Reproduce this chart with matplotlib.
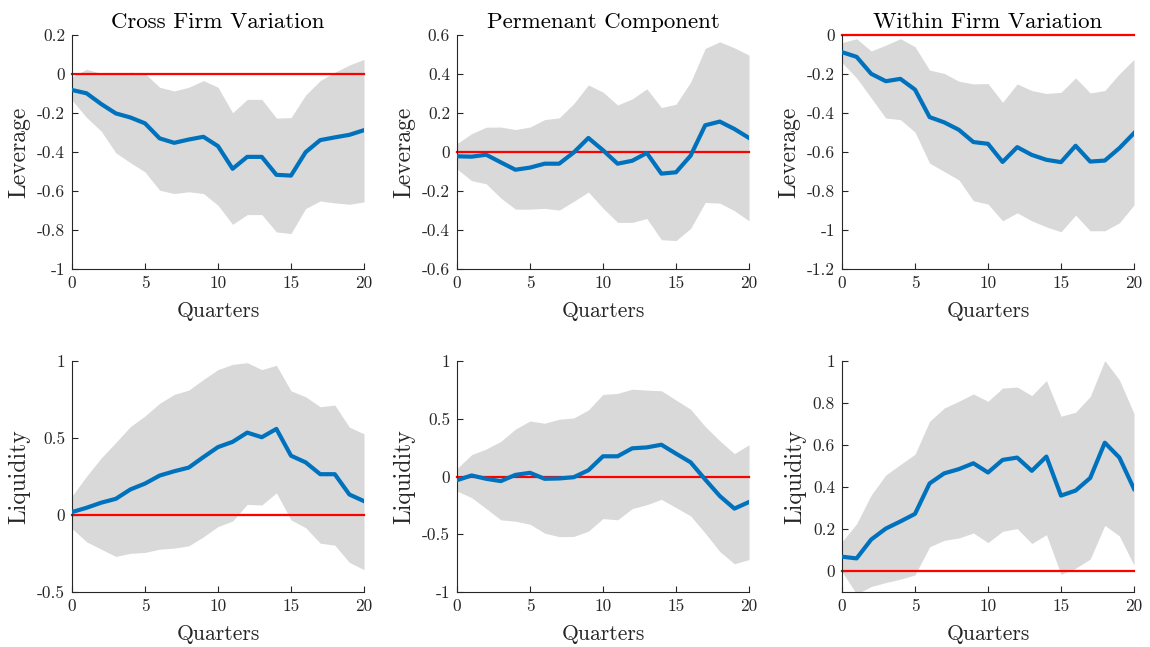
import numpy as np
import matplotlib
matplotlib.use("Agg")
import matplotlib.pyplot as plt
from matplotlib.ticker import FixedLocator, FuncFormatter

plt.rcParams['font.family'] = 'serif'
plt.rcParams['font.serif'] = ['cmr10', 'DejaVu Serif']
plt.rcParams['mathtext.fontset'] = 'cm'
plt.rcParams['axes.unicode_minus'] = False
plt.rcParams['axes.formatter.use_mathtext'] = True

quarters = list(range(21))

titles = ["Cross Firm Variation", "Permenant Component", "Within Firm Variation"]
row_labels = ["Leverage", "Liquidity"]

# Top row: Leverage
lev_cross_mean = [-0.082, -0.099, -0.154, -0.202, -0.223, -0.253, -0.330, -0.353, -0.336, -0.322, -0.370,
                  -0.486, -0.425, -0.425, -0.517, -0.521, -0.401, -0.339, -0.325, -0.312, -0.288]
lev_cross_upper = [-0.014, 0.024, 0.003, 0.000, 0.009, 0.003, -0.068, -0.087, -0.068, -0.034, -0.068,
                   -0.199, -0.130, -0.130, -0.226, -0.224, -0.108, -0.034, 0.009, 0.046, 0.075]
lev_cross_lower = [-0.134, -0.223, -0.293, -0.404, -0.455, -0.502, -0.596, -0.613, -0.604, -0.613, -0.673,
                   -0.771, -0.721, -0.721, -0.810, -0.818, -0.690, -0.651, -0.661, -0.668, -0.656]

lev_perm_mean = [-0.022, -0.024, -0.014, -0.053, -0.091, -0.080, -0.060, -0.060, -0.002, 0.072, 0.009,
                 -0.060, -0.045, -0.005, -0.111, -0.104, -0.019, 0.137, 0.156, 0.118, 0.072]
lev_perm_upper = [0.043, 0.094, 0.127, 0.128, 0.115, 0.128, 0.166, 0.175, 0.248, 0.344, 0.307,
                  0.241, 0.272, 0.324, 0.228, 0.245, 0.358, 0.531, 0.565, 0.534, 0.497]
lev_perm_lower = [-0.087, -0.147, -0.163, -0.236, -0.293, -0.293, -0.289, -0.298, -0.253, -0.205, -0.288,
                  -0.361, -0.361, -0.341, -0.450, -0.454, -0.392, -0.259, -0.262, -0.301, -0.353]

lev_within_mean = [-0.088, -0.112, -0.199, -0.237, -0.225, -0.280, -0.421, -0.448, -0.486, -0.549, -0.558,
                   -0.651, -0.575, -0.615, -0.640, -0.652, -0.568, -0.649, -0.644, -0.580, -0.503]
lev_within_upper = [-0.039, -0.019, -0.082, -0.052, -0.019, -0.060, -0.180, -0.197, -0.237, -0.251, -0.249,
                    -0.345, -0.251, -0.285, -0.300, -0.294, -0.220, -0.297, -0.285, -0.199, -0.125]
lev_within_lower = [-0.142, -0.220, -0.323, -0.426, -0.434, -0.498, -0.657, -0.700, -0.743, -0.850, -0.867,
                    -0.953, -0.912, -0.953, -0.984, -1.009, -0.924, -1.004, -1.004, -0.963, -0.872]

# Bottom row: Liquidity
liq_cross_mean = [0.019, 0.047, 0.080, 0.105, 0.166, 0.204, 0.256, 0.284, 0.308, 0.376, 0.441,
                  0.475, 0.535, 0.505, 0.559, 0.385, 0.342, 0.265, 0.265, 0.133, 0.090]
liq_cross_upper = [0.123, 0.252, 0.370, 0.471, 0.574, 0.643, 0.725, 0.783, 0.811, 0.880, 0.944,
                   0.978, 0.989, 0.944, 0.972, 0.806, 0.768, 0.703, 0.714, 0.570, 0.527]
liq_cross_lower = [-0.088, -0.174, -0.222, -0.269, -0.249, -0.243, -0.222, -0.215, -0.200, -0.142, -0.075,
                   -0.039, 0.069, 0.065, 0.144, -0.032, -0.082, -0.183, -0.196, -0.308, -0.355]

liq_perm_mean = [-0.032, 0.009, -0.020, -0.040, 0.014, 0.032, -0.020, -0.017, -0.006, 0.054, 0.175,
                 0.175, 0.244, 0.252, 0.275, 0.198, 0.123, -0.026, -0.169, -0.278, -0.221]
liq_perm_upper = [0.069, 0.189, 0.238, 0.304, 0.410, 0.481, 0.461, 0.496, 0.507, 0.576, 0.711,
                  0.719, 0.756, 0.748, 0.742, 0.662, 0.582, 0.433, 0.309, 0.198, 0.275]
liq_perm_lower = [-0.126, -0.183, -0.278, -0.375, -0.387, -0.413, -0.490, -0.521, -0.519, -0.473, -0.364,
                  -0.375, -0.278, -0.244, -0.198, -0.269, -0.341, -0.490, -0.650, -0.756, -0.719]

liq_within_mean = [0.068, 0.060, 0.150, 0.202, 0.236, 0.272, 0.417, 0.465, 0.485, 0.513, 0.469,
                   0.529, 0.540, 0.477, 0.545, 0.359, 0.383, 0.443, 0.611, 0.540, 0.391]
liq_within_upper = [0.139, 0.225, 0.362, 0.457, 0.507, 0.556, 0.713, 0.776, 0.808, 0.843, 0.808,
                    0.871, 0.876, 0.835, 0.907, 0.737, 0.756, 0.831, 1.002, 0.910, 0.750]
liq_within_lower = [-0.003, -0.110, -0.074, -0.055, -0.039, -0.019, 0.115, 0.146, 0.157, 0.181, 0.135,
                    0.189, 0.202, 0.131, 0.173, -0.016, 0.013, 0.057, 0.217, 0.167, 0.028]

panels = [
    [(lev_cross_mean, lev_cross_upper, lev_cross_lower),
     (lev_perm_mean, lev_perm_upper, lev_perm_lower),
     (lev_within_mean, lev_within_upper, lev_within_lower)],
    [(liq_cross_mean, liq_cross_upper, liq_cross_lower),
     (liq_perm_mean, liq_perm_upper, liq_perm_lower),
     (liq_within_mean, liq_within_upper, liq_within_lower)],
]

ylims = [[(-1, 0.2), (-0.6, 0.6), (-1.2, 0)],
         [(-0.5, 1), (-1, 1), (-0.1, 1)]]
yticks = [[[-1, -0.8, -0.6, -0.4, -0.2, 0, 0.2],
           [-0.6, -0.4, -0.2, 0, 0.2, 0.4, 0.6],
           [-1.2, -1, -0.8, -0.6, -0.4, -0.2, 0]],
          [[-0.5, 0, 0.5, 1],
           [-1, -0.5, 0, 0.5, 1],
           [0, 0.2, 0.4, 0.6, 0.8, 1]]]
xticks = [0, 5, 10, 15, 20]

fig = plt.figure(figsize=(11.5, 6.47), dpi=100)
W, H = 1150, 647
lefts = [72, 457, 842]
width = 292
rows = [(35, 269), (361, 592)]

blue = '#0072BD'
band = '#D9D9D9'
axc = '#262626'

def fmt(v, pos):
    return '%g' % v

for r in range(2):
    top, bottom = rows[r]
    for c in range(3):
        ax = fig.add_axes([lefts[c] / W, 1 - bottom / H, width / W, (bottom - top) / H])
        m, up, lo = panels[r][c]
        ax.fill_between(quarters, lo, up, color=band, linewidth=0)
        ax.axhline(0, color='#FF0000', linewidth=1.6, zorder=2, clip_on=False)
        ax.plot(quarters, m, color=blue, linewidth=3.0, zorder=3)
        ax.set_xlim(0, 20)
        ax.set_ylim(*ylims[r][c])
        ax.xaxis.set_major_locator(FixedLocator(xticks))
        ax.yaxis.set_major_locator(FixedLocator(yticks[r][c]))
        ax.yaxis.set_major_formatter(FuncFormatter(fmt))
        ax.xaxis.set_major_formatter(FuncFormatter(fmt))
        for s in ['top', 'right']:
            ax.spines[s].set_visible(False)
        for s in ['left', 'bottom']:
            ax.spines[s].set_color(axc)
            ax.spines[s].set_linewidth(0.8)
        ax.tick_params(direction='in', length=4, width=0.8, colors=axc, labelsize=12.5, pad=5)
        ax.set_xlabel('Quarters', fontsize=15.5, color=axc, labelpad=7)
        ax.set_ylabel(row_labels[r], fontsize=17, color=axc, labelpad=5)
        if r == 0:
            ax.set_title(titles[c], fontsize=16.5, color='black', pad=5)

fig.savefig('out.png', dpi=100)
